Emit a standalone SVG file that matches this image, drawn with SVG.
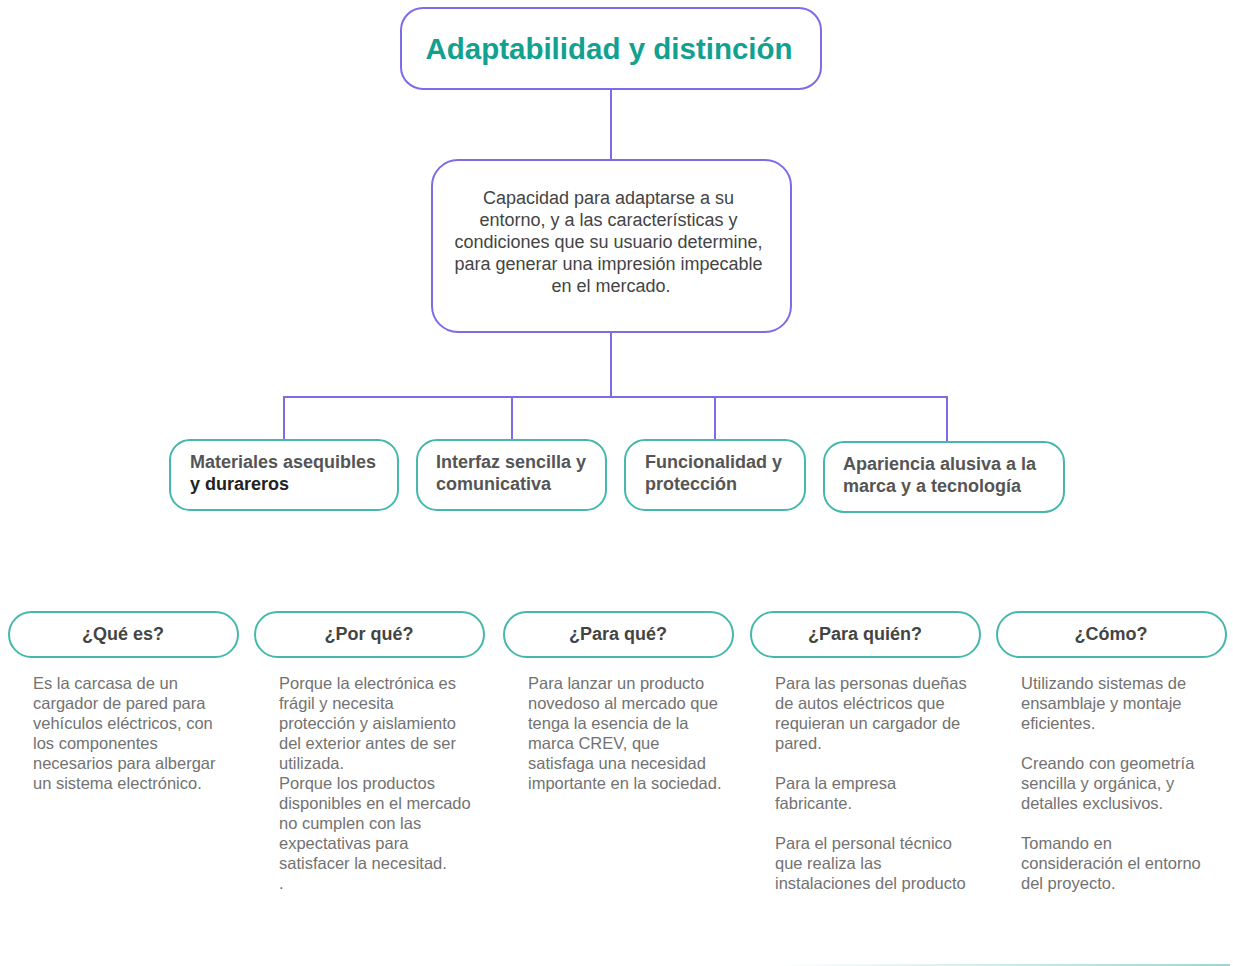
<svg xmlns="http://www.w3.org/2000/svg" width="1233" height="966" viewBox="0 0 1233 966">
<style>
.pbox{fill:#fff;stroke:#7b6ce8;stroke-width:2}
.tbox{fill:#fff;stroke:#45b8ac;stroke-width:2}
.con{fill:none;stroke:#7b6ce8;stroke-width:2}
.title{font-family:"Liberation Sans",Arial,sans-serif;font-weight:bold;font-size:29.5px;fill:#12a090}
.desc{font-family:"Liberation Sans",Arial,sans-serif;font-size:18px;fill:#444}
.lab{font-family:"Liberation Sans",Arial,sans-serif;font-weight:bold;font-size:18px;fill:#555}
.q{font-family:"Liberation Sans",Arial,sans-serif;font-weight:bold;font-size:18px;fill:#444}
.body{font-family:"Liberation Sans",Arial,sans-serif;font-size:16.5px;fill:#727272}
</style>
<defs>
<linearGradient id="bl" x1="0" x2="1" y1="0" y2="0">
<stop offset="0" stop-color="#9dd6cf" stop-opacity="0"/>
<stop offset="1" stop-color="#9dd6cf"/>
</linearGradient>
</defs>
<rect width="1233" height="966" fill="#fff"/>
<g id="connectors">
<line class="con" x1="611" y1="89" x2="611" y2="160"/>
<line class="con" x1="611" y1="332" x2="611" y2="397"/>
<polyline class="con" points="284,440 284,397 947,397 947,442"/>
<line class="con" x1="512" y1="397" x2="512" y2="440"/>
<line class="con" x1="715" y1="397" x2="715" y2="440"/>
</g>
<g id="title">
<rect class="pbox" x="401" y="8" width="420" height="81" rx="22"/>
<text class="title" x="609" y="59" text-anchor="middle">Adaptabilidad y distinción</text>
</g>
<g id="description">
<rect class="pbox" x="432" y="160" width="359" height="172" rx="26"/>
<text class="desc" text-anchor="middle">
<tspan x="611" y="204">Capacidad para adaptarse a su</tspan>
<tspan x="611" y="226">entorno, y a las características y</tspan>
<tspan x="611" y="248">condiciones que su usuario determine,</tspan>
<tspan x="611" y="270">para generar una impresión impecable</tspan>
<tspan x="611" y="292">en el mercado.</tspan>
</text>
</g>
<g id="materiales">
<rect class="tbox" x="170" y="440" width="228" height="70" rx="20"/>
<text class="lab"><tspan x="190" y="468">Materiales asequibles</tspan><tspan x="190" y="490" fill="#222">y durareros</tspan></text>
</g>
<g id="interfaz">
<rect class="tbox" x="417" y="440" width="189" height="70" rx="20"/>
<text class="lab"><tspan x="436" y="468">Interfaz sencilla y</tspan><tspan x="436" y="490">comunicativa</tspan></text>
</g>
<g id="funcionalidad">
<rect class="tbox" x="625" y="440" width="180" height="70" rx="20"/>
<text class="lab"><tspan x="645" y="468">Funcionalidad y</tspan><tspan x="645" y="490">protección</tspan></text>
</g>
<g id="apariencia">
<rect class="tbox" x="824" y="442" width="240" height="70" rx="20"/>
<text class="lab"><tspan x="843" y="470">Apariencia alusiva a la</tspan><tspan x="843" y="492">marca y a tecnología</tspan></text>
</g>
<g id="que-es">
<rect class="tbox" x="9" y="612" width="229" height="45" rx="22.5"/>
<text class="q" x="123" y="640" text-anchor="middle">¿Qué es?</text>
<text class="body">
<tspan x="33" y="689">Es la carcasa de un</tspan>
<tspan x="33" y="709">cargador de pared para</tspan>
<tspan x="33" y="729">vehículos eléctricos, con</tspan>
<tspan x="33" y="749">los componentes</tspan>
<tspan x="33" y="769">necesarios para albergar</tspan>
<tspan x="33" y="789">un sistema electrónico.</tspan>
</text>
</g>
<g id="por-que">
<rect class="tbox" x="255" y="612" width="229" height="45" rx="22.5"/>
<text class="q" x="369" y="640" text-anchor="middle">¿Por qué?</text>
<text class="body">
<tspan x="279" y="689">Porque la electrónica es</tspan>
<tspan x="279" y="709">frágil y necesita</tspan>
<tspan x="279" y="729">protección y aislamiento</tspan>
<tspan x="279" y="749">del exterior antes de ser</tspan>
<tspan x="279" y="769">utilizada.</tspan>
<tspan x="279" y="789">Porque los productos</tspan>
<tspan x="279" y="809">disponibles en el mercado</tspan>
<tspan x="279" y="829">no cumplen con las</tspan>
<tspan x="279" y="849">expectativas para</tspan>
<tspan x="279" y="869">satisfacer la necesitad.</tspan>
<tspan x="279" y="889">.</tspan>
</text>
</g>
<g id="para-que">
<rect class="tbox" x="504" y="612" width="229" height="45" rx="22.5"/>
<text class="q" x="618" y="640" text-anchor="middle">¿Para qué?</text>
<text class="body">
<tspan x="528" y="689">Para lanzar un producto</tspan>
<tspan x="528" y="709">novedoso al mercado que</tspan>
<tspan x="528" y="729">tenga la esencia de la</tspan>
<tspan x="528" y="749">marca CREV, que</tspan>
<tspan x="528" y="769">satisfaga una necesidad</tspan>
<tspan x="528" y="789">importante en la sociedad.</tspan>
</text>
</g>
<g id="para-quien">
<rect class="tbox" x="751" y="612" width="229" height="45" rx="22.5"/>
<text class="q" x="865" y="640" text-anchor="middle">¿Para quién?</text>
<text class="body">
<tspan x="775" y="689">Para las personas dueñas</tspan>
<tspan x="775" y="709">de autos eléctricos que</tspan>
<tspan x="775" y="729">requieran un cargador de</tspan>
<tspan x="775" y="749">pared.</tspan>
<tspan x="775" y="789">Para la empresa</tspan>
<tspan x="775" y="809">fabricante.</tspan>
<tspan x="775" y="849">Para el personal técnico</tspan>
<tspan x="775" y="869">que realiza las</tspan>
<tspan x="775" y="889">instalaciones del producto</tspan>
</text>
</g>
<g id="como">
<rect class="tbox" x="997" y="612" width="229" height="45" rx="22.5"/>
<text class="q" x="1111" y="640" text-anchor="middle">¿Cómo?</text>
<text class="body">
<tspan x="1021" y="689">Utilizando sistemas de</tspan>
<tspan x="1021" y="709">ensamblaje y montaje</tspan>
<tspan x="1021" y="729">eficientes.</tspan>
<tspan x="1021" y="769">Creando con geometría</tspan>
<tspan x="1021" y="789">sencilla y orgánica, y</tspan>
<tspan x="1021" y="809">detalles exclusivos.</tspan>
<tspan x="1021" y="849">Tomando en</tspan>
<tspan x="1021" y="869">consideración el entorno</tspan>
<tspan x="1021" y="889">del proyecto.</tspan>
</text>
</g>
<rect x="780" y="964" width="450" height="2" fill="url(#bl)"/>
</svg>
